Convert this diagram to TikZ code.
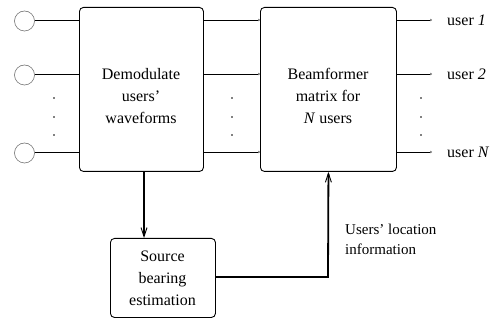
\documentclass[tikz,border=0pt]{standalone}
\usepackage{fontspec}
\setmainfont{Liberation Serif}
\usetikzlibrary{arrows.meta}
\begin{document}
\begin{tikzpicture}[x=1pt,y=-1pt,
  blockbox/.style={draw,line width=0.9pt,rounded corners=4pt,inner sep=0pt,anchor=north west},
  blocktext/.style={font=\fontsize{16}{22}\selectfont,align=center},
  antenna/.style={draw=black!55,line width=0.6pt,circle,minimum size=20pt,inner sep=0pt},
  sig/.style={line width=0.9pt,-{To[length=2pt,width=2.5pt,color=gray]}},
  wire/.style={line width=0.9pt},
  thick arrow/.style={line width=1.8pt,-{Straight Barb[length=9pt,width=6pt,line width=0.9pt]}},
  dotfill/.style={circle,fill,inner sep=0pt,minimum size=1.6pt},
  label text/.style={font=\fontsize{16}{22}\selectfont,anchor=west,inner sep=0pt}]
\useasboundingbox (0,0) rectangle (492,320);

% processing blocks
\node[blockbox,minimum width=124pt,minimum height=164pt] (demod) at (79,7) {};
\node[blocktext] (demodtxt) at (141,96) {Demodulate\\users'\\waveforms};
\node[blockbox,minimum width=136pt,minimum height=164pt] (beam) at (260,7) {};
\node[blocktext] (beamtxt) at (328,96) {Beamformer\\matrix for\\\textit{N} users};
\node[blockbox,minimum width=105pt,minimum height=79pt] (sbe) at (110,238) {};
\node[blocktext] (sbetxt) at (162.5,278) {Source\\bearing\\estimation};

% antenna elements
\node[antenna] (a1) at (24.5,21) {};
\node[antenna] (a2) at (24.5,75) {};
\node[antenna] (aN) at (24.5,153) {};
\foreach \n/\y in {a1/20,a2/74,aN/152}{
  \draw[wire] (\n.east |- 0,\y) -- (79,\y);
  \draw[sig] (203,\y) -- (260,\y);
  \coordinate (o\n) at (432,\y);
  \draw[sig] (396,\y) -- (o\n);
}

% output labels
\node[label text] (u1) at (447,20) {user \textit{1}};
\node[label text] (u2) at (447,74) {user \textit{2}};
\node[label text] (uN) at (447,152) {user \textit{N}};

% ellipsis dots
\foreach \x in {54,232,421}{
  \foreach \y in {98,117,135}{
    \node[dotfill] at (\x,\y) {};
  }
}

% control paths
\draw[thick arrow] (demod.south -| 144,0) -- (sbe.north -| 144,0);
\coordinate (bend) at (328,277);
\draw[thick arrow] (sbe.east |- bend) -- (bend) -- (beam.south);
\node[font=\fontsize{15}{20}\selectfont,align=left,anchor=north west,inner sep=0pt] (loc) at (345,224) {Users' location\\information};
\end{tikzpicture}
\end{document}
